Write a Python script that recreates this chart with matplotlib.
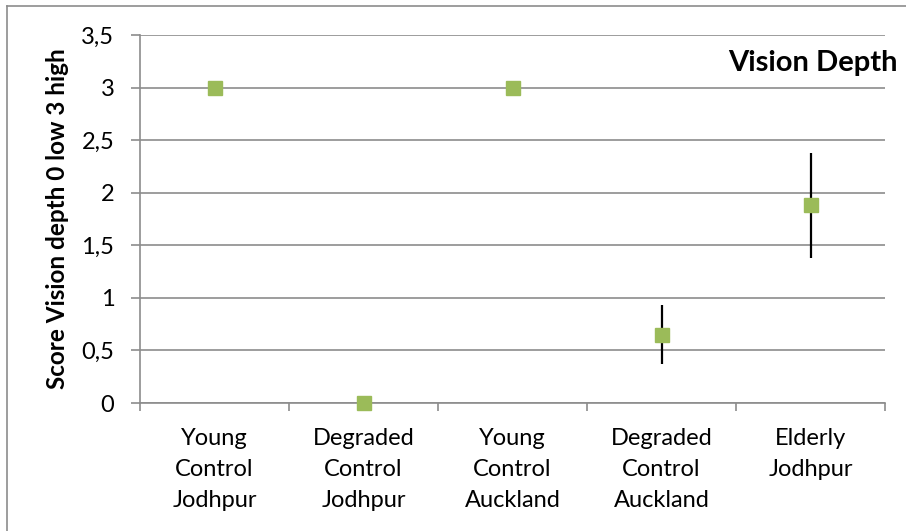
import numpy as np
import matplotlib.pyplot as plt
from matplotlib.lines import Line2D

groups = ['Young\nControl\nJodhpur', 'Degraded\nControl\nJodhpur', 'Young\nControl\nAuckland',
          'Degraded\nControl\nAuckland', 'Elderly\nJodhpur']
scores = [3.0, 0.0, 3.0, 0.65, 1.88]
errors = [0.0, 0.0, 0.0, 0.28, 0.5]

plt.rcParams['font.family'] = ['Lato', 'DejaVu Sans']

fig = plt.figure(figsize=(9.06, 5.31), dpi=100)
ax = fig.add_axes([140 / 906, 1 - 403 / 531, 745 / 906, 368 / 531])

x = np.arange(len(groups))
for xi, s, e in zip(x, scores, errors):
    if e > 0:
        ax.errorbar(xi, s, yerr=e, fmt='none', ecolor='black', elinewidth=1.6, capsize=0, zorder=3)
ax.plot(x, scores, 's', color='#9BBB59', markersize=10.5, linestyle='none', zorder=4, clip_on=False)

ax.set_xlim(-0.5, len(groups) - 0.5)
ax.set_ylim(0, 3.5)
yt = np.arange(0, 3.51, 0.5)
ax.set_yticks(yt)
ax.set_yticklabels([('%g' % v).replace('.', ',') for v in yt], fontsize=17)
ax.yaxis.grid(True, color='#8c8c8c', linewidth=1.2)
ax.set_axisbelow(True)

ax.set_xticks(x)
ax.set_xticklabels(groups, fontsize=17, linespacing=1.6)
ax.set_xticks(np.arange(-0.5, len(groups)), minor=True)
ax.tick_params(axis='x', which='major', length=0, pad=18)
ax.tick_params(axis='x', which='minor', length=6, color='#8c8c8c', width=1.2)
ax.tick_params(axis='y', length=6.5, color='#8c8c8c', width=1.2, pad=12)

for side in ['top', 'right']:
    ax.spines[side].set_visible(False)
for side in ['left', 'bottom']:
    ax.spines[side].set_color('#8c8c8c')
    ax.spines[side].set_linewidth(1.2)

ax.set_ylabel('Score Vision depth 0 low 3 high', fontsize=17.5, fontweight='bold', labelpad=9)
fig.text(898 / 906, 1 - 63 / 531, 'Vision Depth', fontsize=21, fontweight='bold',
         ha='right', va='center')

fig.add_artist(Line2D([7 / 906, 7 / 906], [0, 1 - 6 / 531], transform=fig.transFigure,
                      color='#8c8c8c', linewidth=1.2))
fig.add_artist(Line2D([7 / 906, 1], [1 - 6 / 531, 1 - 6 / 531], transform=fig.transFigure,
                      color='#8c8c8c', linewidth=1.2))

fig.savefig('out.png', dpi=100)
